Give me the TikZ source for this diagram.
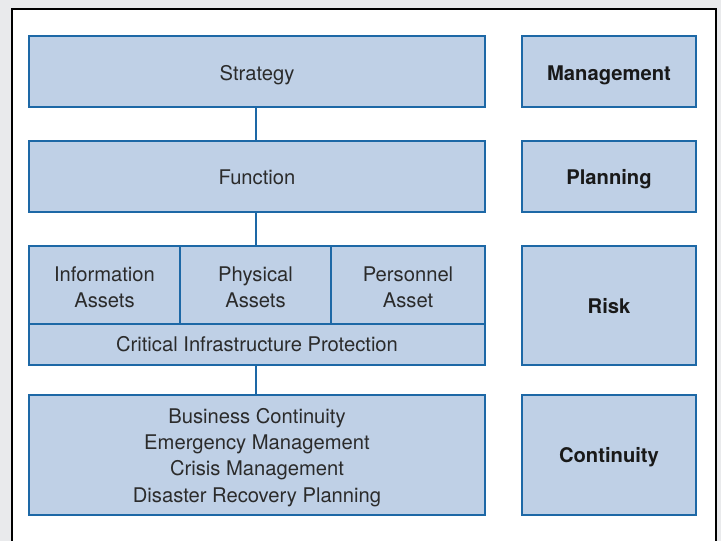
\documentclass[tikz,border=0pt]{standalone}
\usepackage{fontspec}
\setmainfont{TeX Gyre Heros}
\definecolor{bgray}{HTML}{E9EAEC}
\definecolor{boxfill}{HTML}{BFD0E6}
\definecolor{boxline}{HTML}{1D68A6}
\definecolor{txt}{HTML}{2B2B2B}
\newcommand{\topstrut}{\rule{0pt}{19.5pt}}
\begin{document}
\begin{tikzpicture}[x=1pt,y=-1pt,
  box/.style={draw=boxline, fill=boxfill, line width=2pt, inner sep=0pt, text=txt, align=center,
    font=\fontsize{20.2}{26.3}\selectfont},
  one/.style={text height=17.5pt, text depth=0pt},
  side/.style={box, one, font=\fontsize{20.2}{26.3}\selectfont\bfseries, text=black!90},
  link/.style={draw=boxline, line width=2pt}]
\useasboundingbox (0,0) rectangle (721,541);
\clip (0,0) rectangle (721,541);
\fill[bgray] (0,0) rectangle (721,541);
\draw[black, line width=2pt, fill=white] (12,9) rectangle (716,580);
% left column
\node[box, one, minimum width=456pt, minimum height=71pt] (strat) at (257,71.5) {Strategy};
\node[box, one, text height=16pt, minimum width=456pt, minimum height=71pt] (func) at (257,176.5) {Function};
\node[box, minimum width=151pt, minimum height=78pt] (info) at (104.5,285) {\topstrut Information\\Assets};
\node[box, minimum width=151pt, minimum height=78pt] (phys) at (255.5,285) {\topstrut Physical\\Assets};
\node[box, minimum width=154pt, minimum height=78pt] (pers) at (408,285) {\topstrut Personnel\\Asset};
\node[box, one, text height=13pt, minimum width=456pt, minimum height=41pt] (cip) at (257,344.5) {Critical Infrastructure Protection};
\node[box, minimum width=456pt, minimum height=120pt] (cont) at (257,455) {\topstrut Business Continuity\\Emergency Management\\Crisis Management\\Disaster Recovery Planning};
% right column
\node[side, minimum width=174pt, minimum height=71pt] (mgmt) at (609,71.5) {Management};
\node[side, text height=16pt, minimum width=174pt, minimum height=71pt] (plan) at (609,176.5) {Planning};
\node[side, text height=16pt, minimum width=174pt, minimum height=119pt] (risk) at (609,305.5) {Risk};
\node[side, text height=15pt, minimum width=174pt, minimum height=120pt] (contr) at (609,455) {Continuity};
% connectors
\draw[link] (strat.south -| phys.north) -- (func.north -| phys.north);
\draw[link] (func.south -| phys.north) -- (phys.north);
\draw[link] (cip.south -| phys.north) -- (cont.north -| phys.north);
\end{tikzpicture}
\end{document}
